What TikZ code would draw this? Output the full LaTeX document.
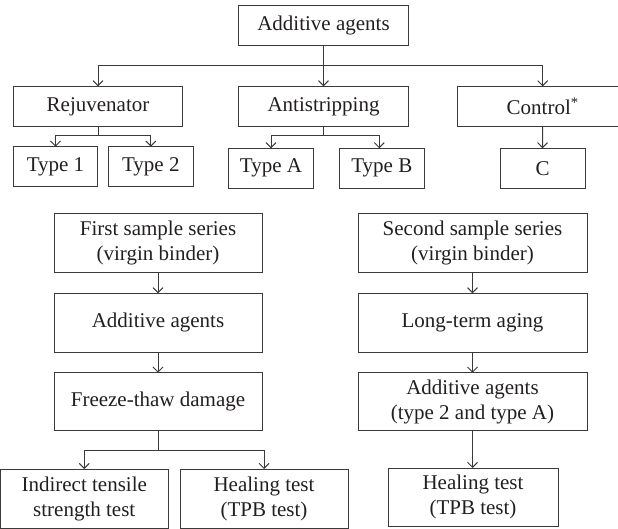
\documentclass[tikz,border=0pt]{standalone}
\usepackage{fontspec}
\setmainfont{Liberation Serif}
\usetikzlibrary{arrows.meta}
\definecolor{ln}{HTML}{3A3A3A}
\definecolor{tx}{HTML}{231F20}
\begin{document}
\begin{tikzpicture}[x=1pt,y=-1pt,
  box/.style={draw=ln, line width=1pt, inner sep=0pt, outer sep=0pt, align=center,
    text=tx, font=\fontsize{21}{25}\selectfont},
  conn/.style={draw=ln, line width=1pt},
  arr/.style={conn, -{Straight Barb[length=5pt,width=10pt,line width=1pt]}}]
\useasboundingbox (0,0) rectangle (618,529);
% top level
\node[box, minimum width=169.6pt, minimum height=40pt] (top) at (323.5,25.7) {Additive agents};
\node[box, minimum width=169.4pt, minimum height=40pt] (rej) at (98,106.4) {Rejuvenator};
\node[box, minimum width=169.6pt, minimum height=40pt] (anti) at (323.5,106.4) {Antistripping};
\node[box, draw=none, minimum width=169.6pt, minimum height=40pt] (ctrl) at (542.7,106.4) {Control\textsuperscript{*}};
\draw[conn] (618,86.4) -| (ctrl.south west) -- (618,126.4);
\node[box, minimum width=84.4pt, minimum height=40pt] (t1) at (55.5,166.7) {Type 1};
\node[box, minimum width=85pt, minimum height=40pt] (t2) at (150.8,166.7) {Type 2};
\node[box, minimum width=84.6pt, minimum height=40pt] (tA) at (271,168.3) {Type A};
\node[box, minimum width=85pt, minimum height=40pt] (tB) at (381.8,168.3) {Type B};
\node[box, minimum width=85pt, minimum height=40pt] (C) at (542.5,168.3) {C};
\coordinate (j0) at (323.5,66);
\coordinate (j1) at (98,136);
\coordinate (j2) at (323.5,136);
\draw[conn] (top.south) -- (j0);
\draw[arr] (j0) -| (rej.north);
\draw[arr] (j0) -- (anti.north);
\draw[arr] (j0) -| (ctrl.north);
\draw[conn] (rej.south) -- (j1);
\draw[arr] (j1) -| (t1.north);
\draw[arr] (j1) -| (t2.north);
\draw[conn] (anti.south) -- (j2);
\draw[arr] (j2) -| (tA.north);
\draw[arr] (j2) -| ([xshift=-2.5pt]tB.north);
\draw[arr] (ctrl.south) -- (C.north);
% first series
\node[box, minimum width=208pt, minimum height=59.4pt] (s1) at (158,243) {First sample series\\(virgin binder)};
\node[box, minimum width=208pt, minimum height=58.7pt] (a1) at (158,322.7) {Additive agents};
\node[box, minimum width=208pt, minimum height=58pt] (ft) at (158,401.7) {Freeze-thaw damage};
\node[box, minimum width=167.5pt, minimum height=59.5pt] (it) at (84.25,498.75) {Indirect tensile\\strength test};
\node[box, minimum width=168pt, minimum height=59.5pt] (h1) at (264,498.75) {Healing test\\(TPB test)};
\coordinate (j3) at (158,450);
\draw[arr] (s1.south) -- (a1.north);
\draw[arr] (a1.south) -- (ft.north);
\draw[conn] (ft.south) -- (j3);
\draw[arr] (j3) -| (it.north);
\draw[arr] (j3) -| (h1.north);
% second series
\node[box, minimum width=229pt, minimum height=59.4pt] (s2) at (472.5,243) {Second sample series\\(virgin binder)};
\node[box, minimum width=229pt, minimum height=58.7pt] (lt) at (472.5,322.7) {Long-term aging};
\node[box, minimum width=229pt, minimum height=58pt] (a2) at (472.5,401.7) {Additive agents\\(type 2 and type A)};
\node[box, minimum width=170pt, minimum height=58pt] (h2) at (473,497) {Healing test\\(TPB test)};
\draw[arr] (s2.south) -- (lt.north);
\draw[arr] (lt.south) -- (a2.north);
\draw[arr] (a2.south) -- (a2.south |- h2.north);
\end{tikzpicture}
\end{document}
